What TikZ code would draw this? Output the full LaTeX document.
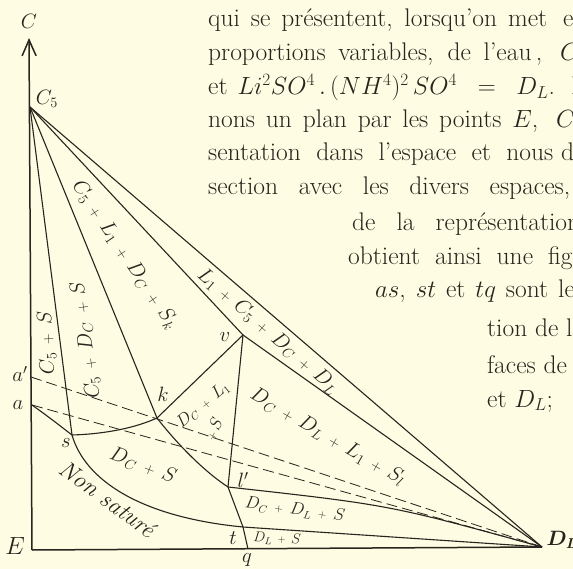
\documentclass[tikz,border=0pt]{standalone}
\usepackage{amsmath,amssymb}
\usepackage{xcolor}
\usepackage{tikz}
\usetikzlibrary{
  arrows.meta,
  positioning,
  calc
}
\newcommand{\pls}{\mskip3mu\mathbin{\scriptstyle +}\mskip3mu}
\definecolor{paper}{RGB}{254,252,226}
\definecolor{ink}{RGB}{40,36,30}
\tikzset{
  phaseline/.style={draw=ink,line width=1.1pt,line join=round},
  baseline/.style={draw=ink,line width=1.5pt},
  tieline/.style={draw=ink,line width=0.8pt,dash pattern=on 11pt off 5pt},
  axisline/.style={
    baseline,
    -{Straight Barb[length=16pt,width=14pt]}
  },
  ptlabel/.style={text=ink,inner sep=0pt,font=\fontsize{20}{22}\selectfont},
  biglabel/.style={ptlabel,font=\fontsize{24}{26}\selectfont},
  fieldlabel/.style={text=ink,inner sep=0pt,font=\fontsize{20}{22}\selectfont},
  bandlabel/.style={fieldlabel,font=\fontsize{22}{24}\selectfont},
  smallfield/.style={fieldlabel,font=\fontsize{16}{18}\selectfont},
  tinyfield/.style={fieldlabel,font=\fontsize{14}{16}\selectfont},
  pagetext/.style={
    text=ink,
    anchor=base west,
    inner sep=0pt,
    font=\fontsize{25.5}{30}\selectfont
  },
}

\begin{document}
\begin{tikzpicture}[x=1pt,y=-1pt]
  \useasboundingbox (0,0) rectangle (573,569);
  \fill[paper] (0,0) rectangle (573,569);
  \clip (0,0) rectangle (573,569);

  % points of the section
  \coordinate (E) at (32,550);
  \coordinate (Ctip) at (29,38);
  \coordinate (C5) at (30,107);
  \coordinate (DL) at (542,547);
  \coordinate (ap) at (31,377);
  \coordinate (a) at (32,405);
  \coordinate (s) at (72,435);
  \coordinate (k) at (157,418);
  \coordinate (v) at (243,335);
  \coordinate (lp) at (228,487);
  \coordinate (t) at (243,527);
  \coordinate (q) at (248,549);

  % axes
  \draw[axisline] (E) -- (Ctip);
  \draw[baseline] (E) -- (DL);

  % boundaries
  \draw[phaseline] (C5) -- (DL);
  \draw[phaseline] (C5) -- (v) -- (DL);
  \draw[phaseline] (C5) -- (k);
  \draw[phaseline] (C5) -- (s);
  \draw[phaseline] (k) -- (v) -- (lp);
  \draw[phaseline] (a) .. controls (50,418) .. (s);
  \draw[phaseline] (s) .. controls (105,434) and (135,428) .. (k);
  \draw[phaseline] (k) .. controls (178,445) and (205,472) .. (lp);
  \draw[phaseline] (s) .. controls (85,480) and (140,517) .. (t);
  \draw[phaseline] (lp) .. controls (236,507) .. (t) -- (q);
  \draw[phaseline] (lp) .. controls (390,505) .. (DL);
  \draw[phaseline] (t) -- (DL);
  \draw[tieline] (ap) -- (DL);
  \draw[tieline] (a) -- (DL);

  % point labels
  \node[ptlabel] (labC) at (29,21) {$C$};
  \node[ptlabel] (labC5) at (47,99) {$C_5$};
  \node[ptlabel] (labap) at (20,374) {$a'$};
  \node[ptlabel] (laba) at (18,405) {$a$};
  \node[ptlabel] (labs) at (66,443) {$s$};
  \node[ptlabel] (labk) at (163,394) {$k$};
  \node[ptlabel] (labv) at (225,337) {$v$};
  \node[ptlabel] (lablp) at (243,480) {$l'$};
  \node[ptlabel] (labt) at (233,538) {$t$};
  \node[ptlabel] (labq) at (247,560) {$q$};
  \node[biglabel] (labE) at (15,546) {$E$};
  \node[ptlabel] (labDL) at (562,540) {$\boldsymbol{D_L}$};

  % fields
  \node[fieldlabel,rotate=93] (fCS) at (47,343) {$C_5\pls S$};
  \node[fieldlabel,rotate=98] (fCDS) at (86,340) {$C_5\pls D_C\pls S$};
  \node[fieldlabel,rotate=-56] (fCLDS) at (125,255) {$C_5\pls L_1\pls D_C\pls S_k$};
  \node[bandlabel,rotate=-41] (fLCDD) at (268,331) {$L_1\pls C_5\pls D_C\pls D_L$};
  \node[smallfield,rotate=39] (fDL) at (203,405) {$D_C\pls L_1$};
  \node[smallfield,rotate=65] (fS) at (213,430) {${\pls}S$};
  \node[fieldlabel,rotate=-30] (fDDLS) at (328,437) {$D_C\pls D_L\pls L_1\pls S_l$};
  \node[bandlabel,rotate=-21] (fDS) at (143,466) {$D_C\pls S$};
  \node[bandlabel,rotate=-36,font=\fontsize{24}{26}\selectfont] (fnon) at (108,499) {\itshape Non saturé};
  \node[smallfield,rotate=-8] (fDDS) at (295,510) {$D_C\pls D_L\pls S$};
  \node[tinyfield,rotate=-3] (fLS) at (277,539) {$D_L\pls S$};

  % running text
  \node[pagetext] (lineA) at (208,27)
    {\makebox[339pt][s]{qui se présentent, lorsqu'on met}\hspace{16pt}en};
  \node[pagetext] (lineB) at (208,61)
    {\makebox[334pt][s]{proportions variables, de l'eau\,,}\hspace{18pt}$C_5$};
  \node[pagetext] (lineC) at (208,95)
    {et\hspace{10pt}$Li^2SO^4\,.\,(NH^4)^2\,SO^4\;\;=\;\;D_L$.\hspace{16pt}Me-};
  \node[pagetext] (lineD) at (208,128)
    {\makebox[330pt][s]{nons un plan par les points $E$,}\hspace{18pt}$C_5$};
  \node[pagetext] (lineE) at (208,161)
    {\makebox[345pt][s]{sentation dans l'espace et nous}\hspace{8pt}déterminons};
  \node[pagetext] (lineF) at (208,195)
    {\makebox[362pt][s]{section avec les divers espaces,}};
  \node[pagetext] (lineG) at (352,231) {\spaceskip=21pt de la représentation};
  \node[pagetext] (lineH) at (348,265) {\spaceskip=15pt obtient ainsi une figure};
  \node[pagetext] (lineI) at (375,298) {\spaceskip=10pt $as$, $st$ et $tq$ sont les};
  \node[pagetext] (lineJ) at (487,337) {tion de la};
  \node[pagetext] (lineK) at (487,373) {faces de};
  \node[pagetext] (lineL) at (487,407) {et $D_L$;};
\end{tikzpicture}
\end{document}
